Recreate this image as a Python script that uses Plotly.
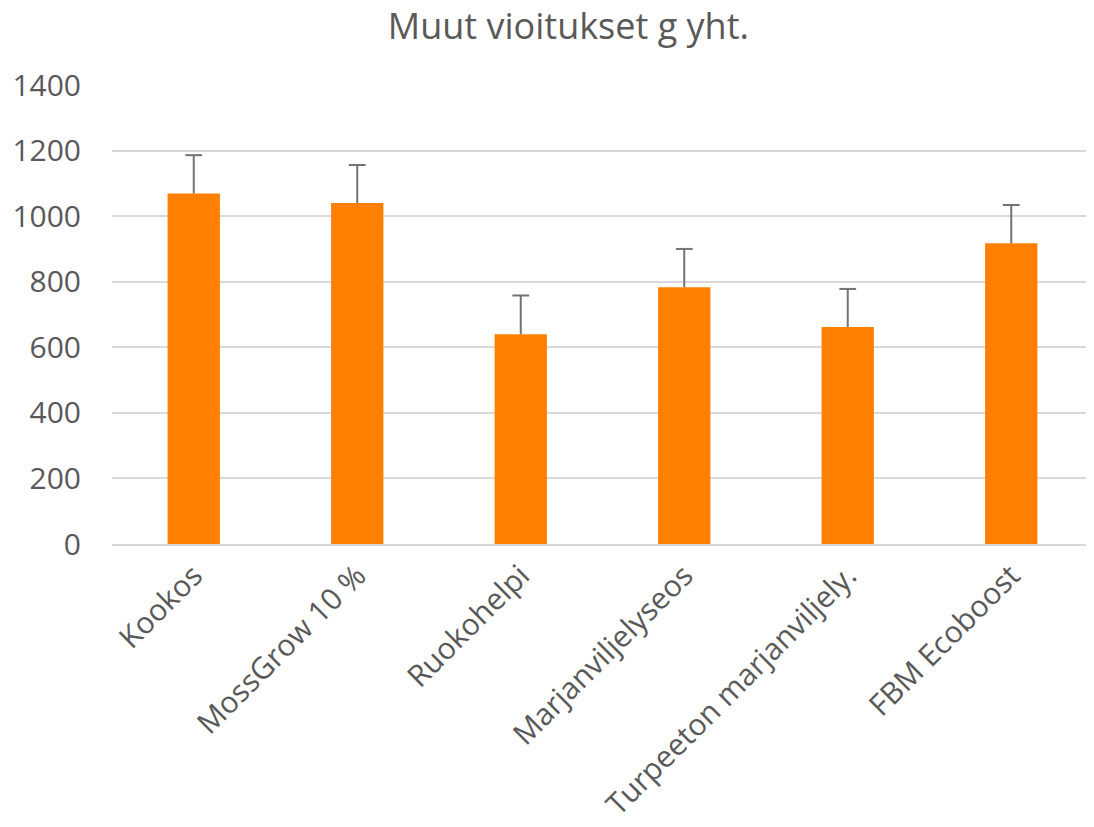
import plotly.graph_objects as go

categories = ["Kookos", "MossGrow 10 %", "Ruokohelpi", "Marjanviljelyseos",
              "Turpeeton marjanviljely.", "FBM Ecoboost"]
values = [1069, 1040, 640, 783, 662, 917]
errors = [117, 116, 118, 117, 116, 117]
y_ticks = [0, 200, 400, 600, 800, 1000, 1200, 1400]

tops = [v + e for v, e in zip(values, errors)]
stem_x, stem_y = [], []
for c, v, t in zip(categories, values, tops):
    stem_x += [c, c, None]
    stem_y += [v, t, None]

fig = go.Figure()
fig.add_trace(go.Bar(
    x=categories, y=values,
    marker=dict(color="#FF8000", line=dict(width=0)),
    width=0.32,
))
fig.add_trace(go.Scatter(x=stem_x, y=stem_y, mode="lines",
                         line=dict(color="#737373", width=2), hoverinfo="skip"))
fig.add_trace(go.Scatter(x=categories, y=tops, mode="markers",
                         marker=dict(symbol="line-ew", size=12,
                                     line=dict(color="#737373", width=2)),
                         hoverinfo="skip"))

fig.update_layout(
    width=1086, height=819,
    paper_bgcolor="white", plot_bgcolor="white",
    margin=dict(l=104, r=1, t=77, b=283),
    title=dict(text="Muut vioitukset g yht.", x=0.516, xanchor="center",
               y=0.977, yanchor="middle",
               font=dict(family="Open Sans", size=36, color="#595959")),
    font=dict(family="Open Sans", color="#595959"),
    showlegend=False,
)
fig.update_yaxes(range=[0, 1400], tickvals=y_ticks, showgrid=True, gridcolor="#D9D9D9",
                 gridwidth=2, zeroline=False, showline=False,
                 tickfont=dict(size=30, color="#595959"), ticklabelstandoff=30)
fig.update_xaxes(tickangle=-45, showline=True, linecolor="#D9D9D9", linewidth=2,
                 tickfont=dict(size=30, color="#595959"), ticks="")

fig.write_html("out.html")
